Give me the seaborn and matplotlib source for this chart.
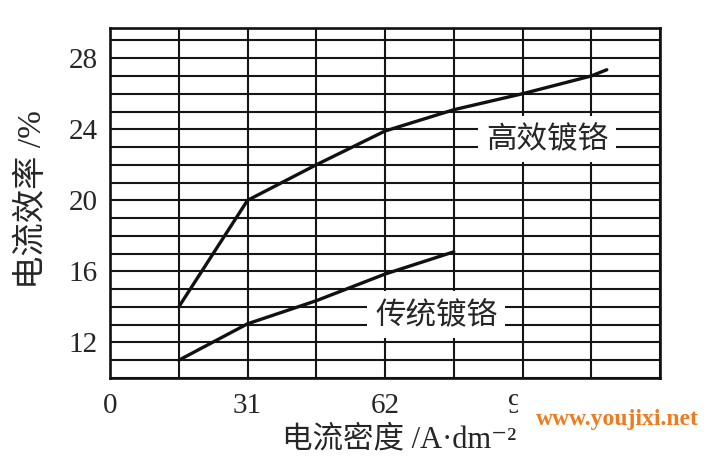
import matplotlib
matplotlib.use("Agg")
import matplotlib.pyplot as plt
from matplotlib.ticker import MultipleLocator
from matplotlib.patches import Rectangle
import pandas as pd
import seaborn as sns

# ---- data ----
density_high = [15.5, 31, 46.5, 62, 77.5, 93, 108.5, 112]
eff_high = [14.0, 20.0, 22.0, 23.9, 25.1, 26.0, 27.0, 27.35]
density_trad = [15.5, 31, 46.5, 62, 77.5]
eff_trad = [11.0, 13.05, 14.35, 15.85, 17.1]
series_names = ["高效镀铬", "传统镀铬"]
x_ticks = [0, 31, 62, 93]
y_ticks = [12, 16, 20, 24, 28]

df = pd.concat([
    pd.DataFrame({"x": density_high, "y": eff_high, "s": series_names[0]}),
    pd.DataFrame({"x": density_trad, "y": eff_trad, "s": series_names[1]}),
])

sns.set_style("white")
plt.rcParams["font.family"] = ["Liberation Serif", "Noto Sans CJK SC", "DejaVu Sans"]

fig = plt.figure(figsize=(7.17, 4.57), dpi=100)
ax = fig.add_axes([110 / 717, 1 - 378 / 457, 550 / 717, 350 / 457])

sns.lineplot(data=df, x="x", y="y", hue="s", palette=["#111111", "#111111"],
             linewidth=2.4, legend=False, ax=ax, sort=False, zorder=3)

ax.set_xlim(0, 124)
ax.set_ylim(10, 29.7)
ax.set_xticks(x_ticks)
ax.set_yticks(y_ticks)
ax.xaxis.set_minor_locator(MultipleLocator(15.5))
ax.yaxis.set_minor_locator(MultipleLocator(1))
ax.grid(which="both", color="#151515", linewidth=1.5)
ax.set_axisbelow(True)
ax.tick_params(which="both", length=0, labelsize=21)
ax.tick_params(axis="x", pad=11)
ax.tick_params(axis="y", pad=9)
for sp in ax.spines.values():
    sp.set_color("#111111")
    sp.set_linewidth(1.9)

ax.set_xlabel("电流密度 /A·dm⁻²", fontsize=22)
ax.xaxis.set_label_coords(0.525, -0.135)
ax.set_ylabel("电流效率 /%", fontsize=24)
ax.yaxis.set_label_coords(-0.112, 0.51)

box = dict(boxstyle="square,pad=0.25", facecolor="white", edgecolor="none")
ax.text(98.5, 23.45, series_names[0], fontsize=22, ha="center", va="center",
        family=["Noto Sans CJK SC"], bbox=box, zorder=5)
ax.text(73.5, 13.57, series_names[1], fontsize=22, ha="center", va="center",
        family=["Noto Sans CJK SC"], bbox=box, zorder=5)

# watermark with its white backing
fig.patches.append(Rectangle((518 / 717, 0), 1 - 518 / 717, 1 - 393 / 457,
                             transform=fig.transFigure, facecolor="white",
                             edgecolor="none", zorder=10))
fig.text(617 / 717, 1 - 420 / 457, "www.youjixi.net", color="#f07a1e",
         fontsize=17, fontweight="bold", family=["Liberation Serif"],
         ha="center", va="center", zorder=11)

fig.savefig("out.png", dpi=100)
